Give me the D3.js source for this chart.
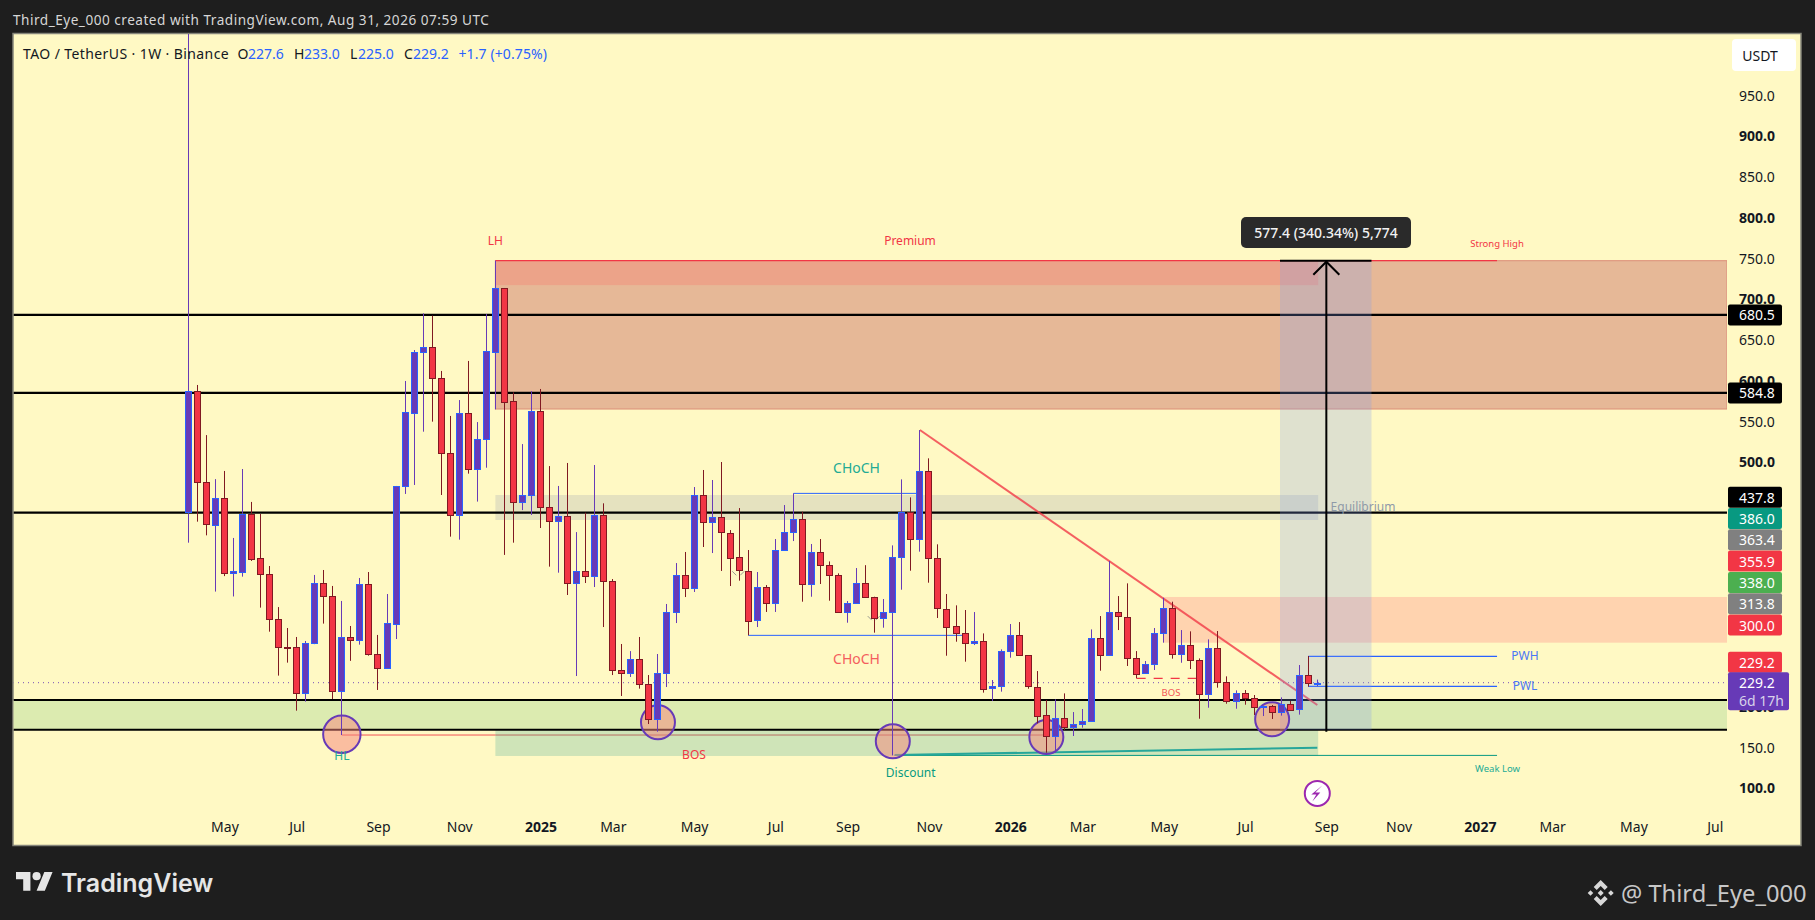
<!DOCTYPE html>
<html><head><meta charset="utf-8">
<script src="https://cdnjs.cloudflare.com/ajax/libs/d3/7.8.5/d3.min.js"></script>
<style>html,body{margin:0;padding:0;background:#1e1e1e;overflow:hidden}svg{display:block}text{font-family:"Noto Sans",sans-serif}</style>
</head><body><svg id="c" width="1815" height="920"></svg>
<script>
const opens=[438.7,587,475,423,455.4,363,365.5,436.2,381.8,362.2,307,272.6,272.6,215.8,277.1,351.2,335.2,218.2,284.9,280.8,349.9,264,246.4,301.7,469.8,560.6,634.6,640.7,602.7,510.7,434.2,559.7,491,527.8,635,713.5,574.5,450.5,458.7,562,444.4,426.8,433.4,350.7,365.8,359.3,434.5,353.6,244.4,240.3,257.9,227.2,183.8,240.7,315.5,360.9,344.6,459.1,425.5,432,413.3,383,366.6,305.3,346.2,326.6,391.2,413.3,429.6,349.5,389.2,373.2,360.9,315.5,326.6,351.1,333.9,308.1,315.5,383,438.6,405,488.5,381.8,320,298.3,289.7,277.5,279.9,221.8,224.7,267.7,287.3,262.7,224.3,189.1,163.4,185.4,174.4,178,181.8,283.6,262.3,315.5,310.2,259.9,240.3,251.3,289.7,320.4,264,275,256.6,214.5,271.3,229.6,206.3,216.1,210,199.8,200.2,192.8,202.7,196.1,238.2,227.6];
const highs=[1300,594.5,533,479,489,406.8,491.4,451,436.2,372.4,322,296.3,285.3,280.4,361.4,367.5,347.9,329.5,298.8,357.7,365,287.8,338,470.6,599.4,637.4,682.4,679.6,611.7,556.5,576,624,549,681.6,747,713.5,585.5,522,587,589.6,495,470.6,498.8,414,437.8,496.3,449.3,356.4,276.7,268,285.3,238.6,264.4,325.8,376,389.6,469.3,490.2,477.9,500,416.5,443.5,392,365,349,405.5,447.2,461.5,439,399.4,405.5,378,363.4,329.4,369.9,373.4,334.7,331.9,397.7,478.7,456.6,539.2,504.5,399,338,324.1,318.4,315.9,289.7,232.5,270.1,301.2,303.6,262.7,243.5,208,208.8,216.1,193.2,196.9,294.6,311,378.5,335.5,351.1,268,255.8,296.3,333.5,328.6,293.8,292.2,259,282.4,292.6,237,219.8,220.2,214.1,200.6,201.8,211.2,206.8,250.9,262,233];
const lows=[401,426.8,410,341,360,335,359.3,378.6,321.3,291.8,237.9,253.8,194.9,206,276.5,301.7,209.2,165,256,275.9,262.4,220.3,246.4,282.8,460.8,471.8,537.2,549.5,459.5,408.4,404.7,485.7,451.4,493,564.6,386,401,441,435,419,371.6,364.2,336.8,237.4,351.5,346.6,297.5,238.6,212.9,236.2,221.9,178.5,169.1,223.9,302.4,334.3,340.5,395.7,388.3,366.3,347.8,354.4,287.3,297.5,316,316,391,403,328.6,334.7,350.3,329.8,315.5,302.8,326.6,333.9,290.6,296.7,140,343.3,366.6,390,351.9,308.6,262.3,279.5,255,275.4,217,206.7,218.2,259.9,262.7,221.8,179.3,143.3,143.3,171.1,163.8,174,181.8,243.9,262.3,293.8,249.7,234.5,240.3,244.8,278.3,258.7,253.7,246,185,198.5,223.1,203.4,197.3,202.2,189.6,188.3,184.7,188.8,194.9,190,224.3,225];
const closes=[587,475,423,455.9,363,366,436.2,381.4,362.2,306.6,272.6,272.2,215.8,277.5,351.2,334.8,218.2,284.9,280.8,349.9,263.6,246.4,302,470.6,561,635,640.7,602.3,510.3,434.2,559.7,491,527.8,635.8,713.5,574,450.5,459,562,444,426.8,433.4,350.7,365.8,359.3,434.5,353.2,244,240.3,257.9,226.8,183.8,240.7,315.5,360.9,344.6,459.1,425.5,432,413.3,383,366.6,305.3,346.2,326.6,391.6,413.7,429.6,349.5,389.2,373.2,360.9,315.5,326.6,351.1,333.9,308.1,315.5,383,438.6,405,488.5,381.8,320.4,298.3,289.7,277.5,279.9,221,224.7,267.7,287.3,262.7,224.3,189.1,163.4,185.4,174.4,178,181.8,283.6,262.3,315.5,310.2,259.9,240.3,251.7,289.7,320.4,264,275,256.6,214.5,271.3,229.6,206.3,216.1,209.6,199,200.6,192.8,202.7,195.7,238.2,228,229.2];

const priceTicks=[950,900,850,800,750,700,650,600,550,500,200,150,100];
const timeTickDates=["2024-05-06","2024-07-01","2024-09-02","2024-11-04","2025-01-06","2025-03-03","2025-05-05","2025-07-07","2025-09-01","2025-11-03","2026-01-05","2026-03-02","2026-05-04","2026-07-06","2026-09-07","2026-11-02","2027-01-04","2027-03-01","2027-05-03","2027-07-05"];
const timeTickLabels=["May","Jul","Sep","Nov","2025","Mar","May","Jul","Sep","Nov","2026","Mar","May","Jul","Sep","Nov","2027","Mar","May","Jul"];
const horizontalLevels=[680.5,584.8,437.8,208,171.5];
const circleBars=[17,52,78,95,120];
const circlePrices=[165.9,180.6,157.3,162.6,184.3];
const rightAxisTags=[[300,"#f23645"],[313.8,"#808080"],[338,"#4caf50"],[355.9,"#f23645"],[363.4,"#808080"],[386,"#089981"],[437.8,"#000000"]];
const lineTags=[680.5,584.8];

const W=1815,H=920,L=13,T=34,R=1801,B=845,PR=1727;
const svg=d3.select("#c");
const y=d3.scaleLinear().domain([100,950]).range([788,95.25]);
const firstBar=Date.UTC(2024,3,8),WEEK=7*864e5;
const barDate=i=>new Date(firstBar+i*WEEK);
const x=d3.scaleUtc().domain([barDate(0),barDate(125)]).range([188.3,1317.3]);
const xb=i=>x(barDate(i));

svg.append("rect").attr("width",W).attr("height",H).attr("fill","#1e1e1e");
svg.append("rect").attr("x",L).attr("y",T-.5).attr("width",R-L).attr("height",B-T+1).attr("fill","#fff9c4").attr("stroke","#85857a").attr("stroke-width",1.5);
svg.append("defs").append("clipPath").attr("id","plot").append("rect").attr("x",L+.7).attr("y",T).attr("width",PR-L-.7).attr("height",B-T);
const g=svg.append("g").attr("clip-path","url(#plot)");

function zone(a,b,pT,pB,fill,stroke){
  const xa=a===null?L:xb(a),xe=b===null?PR:xb(b);
  return g.append("rect").attr("x",xa).attr("y",y(pT)).attr("width",xe-xa).attr("height",y(pB)-y(pT)).attr("fill",fill).attr("stroke",stroke||"none");
}
zone(34,null,747,565,"#e6b897","#dc8d78");
zone(34,125.1,747,717,"#eca389");
zone(34,125.1,459.5,428.8,"#e5e2bf");
zone(null,null,208,171.5,"#dcebb0");
zone(34,125.1,171.5,139.3,"#cfe4b8");
zone(108,null,334.4,278.3,"#ffd3af");

function seg(a,pa,b,pb,color,w,dash,op){
  const xa=a===null?L:xb(a),xe=b===null?PR:xb(b);
  return g.append("line").attr("x1",xa).attr("x2",xe).attr("y1",y(pa)).attr("y2",y(pb)).attr("stroke",color).attr("stroke-width",w).attr("stroke-dasharray",dash||null).attr("opacity",op||1);
}
horizontalLevels.forEach(p=>seg(null,p,null,p,"#000",2.2));
seg(null,229.2,null,229.2,"#673ab7",1,"1 4",.9);
seg(34,747,144.9,747,"#f23645",1.2);
seg(17,165,34,165,"#f23645",1,null,.85);
seg(34,165,95,165,"#b5605a",1,null,.9);
seg(67,461.5,81,461.5,"#2962ff",1);
seg(62,287.3,86,287.3,"#2962ff",1);
seg(124,261.6,144.9,261.6,"#2962ff",1.2);
seg(124,224.8,144.9,224.8,"#2962ff",1.2);
seg(105,234.6,111.6,234.6,"#f23645",1.2,"9 8");
seg(78.2,140,144.9,140,"#089981",1);
seg(78.2,140.5,125,149.4,"#26a69a",2);
seg(81,539.2,125,201.8,"#f23645",2,null,.78);

[[61,361],[76,306]].forEach(([i,p])=>{
  const cx=xb(i),cy=y(p);
  g.append("path").attr("d",`M${cx-7},${cy-4}L${cx-3},${cy}M${cx+5},${cy-4}L${cx+1},${cy}`).attr("stroke","#9a9a90").attr("stroke-width",1).attr("fill","none");
});

function label(px,py,t,color,size,op){
  return svg.append("text").attr("x",px).attr("y",py-1).attr("text-anchor","middle").attr("dominant-baseline","central").attr("fill",color).attr("font-size",size).attr("opacity",op||1).text(t);
}
label(xb(17),756,"HL","#22ab94",12);

zone(120.87,131,747,171.5,"rgba(128,156,240,.25)");
seg(120.87,747,131,747,"#000",2);
seg(126,747,126,169,"#000",2);
const ax=xb(126),ay=y(747);
g.append("path").attr("d",`M${ax-13},${ay+14}L${ax},${ay+1}L${ax+13},${ay+14}`).attr("fill","none").attr("stroke","#000").attr("stroke-width",2);

g.selectAll("circle.o").data(circleBars).join("circle").attr("class","o")
 .attr("cx",d=>xb(d)).attr("cy",(d,i)=>y(circlePrices[i])).attr("r",(d,i)=>i===0?18.7:17)
 .attr("fill","rgba(245,131,124,.5)").attr("stroke","#673ab7").attr("stroke-width",2);

const bars=d3.range(opens.length);
const cg=g.append("g");
cg.selectAll("line").data(bars).join("line")
 .attr("x1",d=>Math.floor(xb(d))+.5).attr("x2",d=>Math.floor(xb(d))+.5)
 .attr("y1",d=>y(highs[d])).attr("y2",d=>y(lows[d]))
 .attr("stroke",d=>closes[d]>=opens[d]?"#673ab7":"#801922").attr("stroke-width",1);
cg.selectAll("rect").data(bars).join("rect")
 .attr("x",d=>Math.floor(xb(d))-2.5).attr("width",6)
 .attr("y",d=>Math.round(y(Math.max(opens[d],closes[d])))+.5)
 .attr("height",d=>Math.max(1,Math.round(Math.abs(y(opens[d])-y(closes[d])))))
 .attr("fill",d=>closes[d]>=opens[d]?"#673ab7":"#f23645")
 .attr("stroke",d=>closes[d]>=opens[d]?"#2962ff":"#801922").attr("stroke-width",1);

label(xb(34),241,"LH","#f23645",12);
label(910,241,"Premium","#f23645",12);
label(1497,244,"Strong High","#f23645",9.5);
label(1363,507,"Equilibrium","#8f9aa8",12);
label(856.5,468,"CHoCH","#22ab94",14);
label(856.5,659,"CHoCH","#f23645",14,.8);
label(694,755,"BOS","#f23645",12);
label(1171,693,"BOS","#f23645",9.5,.85);
label(910.7,773,"Discount","#089981",12);
label(1497.5,769,"Weak Low","#22ab94",9.5);
label(1525,656,"PWH","#2962ff",12,.85);
label(1525,686,"PWL","#2962ff",12,.85);

const lx=xb(125),ly=y(93.4);
svg.append("circle").attr("cx",lx).attr("cy",ly).attr("r",12.5).attr("fill","#fff").attr("stroke","#9c27b0").attr("stroke-width",2);
svg.append("path").attr("d",`M${lx+5},${ly-8}L${lx-2},${ly-1}H${lx+3}L${lx-5},${ly+8}L${lx-1},${ly+1}H${lx-6}Z`).attr("fill","#9c27b0");

svg.append("rect").attr("x",1241).attr("y",217).attr("width",170).attr("height",31).attr("rx",5).attr("fill","#2a2a2a");
label(1326,233,"577.4 (340.34%) 5,774","#f2f2f2",14).attr("font-weight",500);

const yAxis=d3.axisRight(y).tickValues(priceTicks).tickSize(0).tickPadding(0).tickFormat(d3.format(".1f"));
const ya=svg.append("g").attr("transform","translate(1739,0.5)").call(yAxis);
ya.select(".domain").remove();
ya.selectAll("text").attr("font-size",14).attr("fill","#131722").attr("font-family",'"Noto Sans"').attr("font-weight",d=>d%100===0?700:400);
const tickDates=timeTickDates.map(s=>new Date(s+"T00:00:00Z"));
const xAxis=d3.axisBottom(x).tickValues(tickDates).tickSize(0).tickPadding(0).tickFormat((d,i)=>timeTickLabels[i]);
const xa=svg.append("g").attr("transform","translate(0,822)").call(xAxis);
xa.select(".domain").remove();
xa.selectAll("text").attr("font-size",14).attr("fill","#131722").attr("font-family",'"Noto Sans"').attr("font-weight",(d,i)=>/^\d/.test(timeTickLabels[i])?700:400);

function tag(cy,txt,col,txtcol){
  svg.append("rect").attr("x",1728).attr("y",cy-10.5).attr("width",54).attr("height",21).attr("rx",2).attr("fill",col);
  svg.append("text").attr("x",1739).attr("y",cy).attr("dominant-baseline","central").attr("font-size",14).attr("fill",txtcol||"#fff").text(txt);
}
lineTags.forEach(v=>tag(y(v),d3.format(".1f")(v),"#000"));
let prevY=Infinity;
rightAxisTags.forEach(([v,c])=>{const cy=Math.min(y(v),prevY-21.3);prevY=cy;tag(cy,d3.format(".1f")(v),c);});
const lastY=y(229.2);
tag(lastY-20.4,"229.2","#f23645");
svg.append("rect").attr("x",1728).attr("y",lastY-10.5).attr("width",61).attr("height",38).attr("rx",2).attr("fill","#673ab7");
svg.append("text").attr("x",1739).attr("y",lastY).attr("dominant-baseline","central").attr("font-size",14).attr("fill","#fff").text("229.2");
svg.append("text").attr("x",1739).attr("y",lastY+17.5).attr("dominant-baseline","central").attr("font-size",14).attr("fill","#d8d2ea").text("6d 17h");

svg.append("rect").attr("x",1732).attr("y",39).attr("width",64).attr("height",32).attr("rx",4).attr("fill","#fff");
label(1760,56,"USDT","#131722",14);

svg.append("text").attr("x",13).attr("y",19.5).attr("dominant-baseline","central").attr("font-size",13.6).attr("letter-spacing",.5).attr("fill","#d6d6d6").text("Third_Eye_000 created with TradingView.com, Aug 31, 2026 07:59 UTC");
const legendParts=[["TAO / TetherUS · 1W · Binance",23,"#131722",.4],["O",237.6,"#131722",0],["227.6",248,"#2962ff",0],["H",294,"#131722",0],["233.0",304,"#2962ff",0],["L",350,"#131722",0],["225.0",358,"#2962ff",0],["C",404,"#131722",0],["229.2",413,"#2962ff",0],["+1.7 (+0.75%)",458.5,"#2962ff",.1]];
legendParts.forEach(([t,px,c,ls])=>svg.append("text").attr("x",px).attr("y",53).attr("dominant-baseline","central").attr("font-size",14).attr("letter-spacing",ls).attr("fill",c).text(t));

svg.append("g").attr("transform","translate(16,868) scale(1.03)").attr("fill","#e6e6e6")
 .call(s=>{s.append("path").attr("d","M14 22H7V11H0V4h14v18zM28 22h-8l7.5-18h8L28 22z");s.append("circle").attr("cx",20).attr("cy",8).attr("r",4);});
svg.append("text").attr("x",61).attr("y",883).attr("dominant-baseline","central").attr("font-size",25).attr("font-weight",600).attr("fill","#e6e6e6").attr("style",'font-family:Inter,"Noto Sans"').text("TradingView");
const d=svg.append("g").attr("transform","translate(1600.7,893)").attr("fill","#d8d8d8");
["M0,-13L7,-6L4,-3L0,-7L-4,-3L-7,-6Z","M0,13L7,6L4,3L0,7L-4,3L-7,6Z","M-13,0L-10.2,-2.8L-7.4,0L-10.2,2.8Z","M13,0L10.2,-2.8L7.4,0L10.2,2.8Z","M0,-3L3,0L0,3L-3,0Z"].forEach(p=>d.append("path").attr("d",p));
svg.append("text").attr("x",1621).attr("y",893).attr("dominant-baseline","central").attr("font-size",23.7).attr("fill","#c8c8c8").text("@ Third_Eye_000");
</script></body></html>
